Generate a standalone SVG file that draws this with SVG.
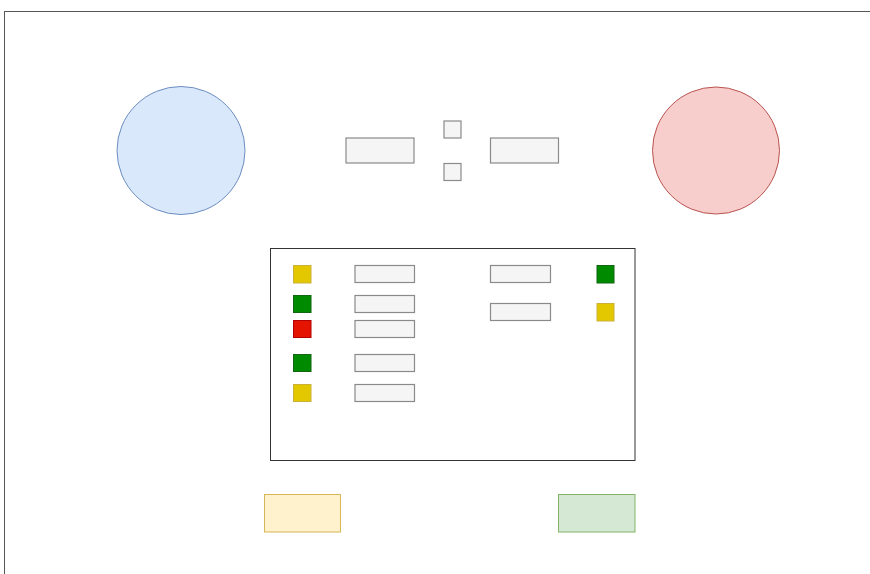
<svg xmlns="http://www.w3.org/2000/svg" width="870" height="574" viewBox="0 0 870 574">
<style>
.gray{fill:#f5f5f5;stroke:#8a8a8a;stroke-width:1.2}
.ly{fill:#e3c800;stroke:#c9b13a;stroke-width:1}
.lg{fill:#008a00;stroke:#116611;stroke-width:1}
.lr{fill:#e51400;stroke:#b20000;stroke-width:1}
</style>
<rect width="870" height="574" fill="#ffffff"/>
<g id="frame"><rect x="4.5" y="11.5" width="880" height="580" fill="none" stroke="#555555" stroke-width="1"/></g>
<g id="circle-blue"><circle cx="181" cy="150.5" r="64" fill="#dae8fc" stroke="#6c8ebf" stroke-width="1"/></g>
<g id="circle-red"><circle cx="716" cy="150.5" r="63.5" fill="#f8cecc" stroke="#b85450" stroke-width="1"/></g>
<g id="top-left-rect"><rect class="gray" x="346" y="138" width="68" height="25"/></g>
<g id="top-right-rect"><rect class="gray" x="490.5" y="138" width="68" height="25"/></g>
<g id="small-top"><rect class="gray" x="444" y="121" width="17" height="17"/></g>
<g id="small-bottom"><rect class="gray" x="444" y="163.5" width="17" height="17"/></g>
<g id="container"><rect x="270.5" y="248.5" width="364.5" height="212" fill="#ffffff" stroke="#333333" stroke-width="1"/></g>
<g id="led1"><rect class="ly" x="293.5" y="265.5" width="17.5" height="17.5"/></g>
<g id="led2"><rect class="lg" x="293.5" y="295.5" width="17.5" height="17"/></g>
<g id="led3"><rect class="lr" x="293.5" y="320.5" width="17.5" height="17"/></g>
<g id="led4"><rect class="lg" x="293.5" y="354.5" width="17.5" height="17"/></g>
<g id="led5"><rect class="ly" x="293.5" y="384.5" width="17.5" height="17"/></g>
<g id="field1"><rect class="gray" x="355" y="265.5" width="59.5" height="17"/></g>
<g id="field2"><rect class="gray" x="355" y="295.5" width="59.5" height="17"/></g>
<g id="field3"><rect class="gray" x="355" y="320.5" width="59.5" height="17"/></g>
<g id="field4"><rect class="gray" x="355" y="354.5" width="59.5" height="17"/></g>
<g id="field5"><rect class="gray" x="355" y="384.5" width="59.5" height="17"/></g>
<g id="field6"><rect class="gray" x="490.5" y="265.5" width="60" height="17"/></g>
<g id="field7"><rect class="gray" x="490.5" y="303.5" width="60" height="17"/></g>
<g id="led6"><rect class="lg" x="597" y="265.5" width="17" height="17.5"/></g>
<g id="led7"><rect class="ly" x="597" y="303.5" width="17" height="17.5"/></g>
<g id="bottom-yellow"><rect x="264.5" y="494.5" width="76" height="37.5" fill="#fff2cc" stroke="#d6b656" stroke-width="1"/></g>
<g id="bottom-green"><rect x="558.5" y="494.5" width="76.5" height="37.5" fill="#d5e8d4" stroke="#82b366" stroke-width="1"/></g>
<g id="connectors"></g>
</svg>
